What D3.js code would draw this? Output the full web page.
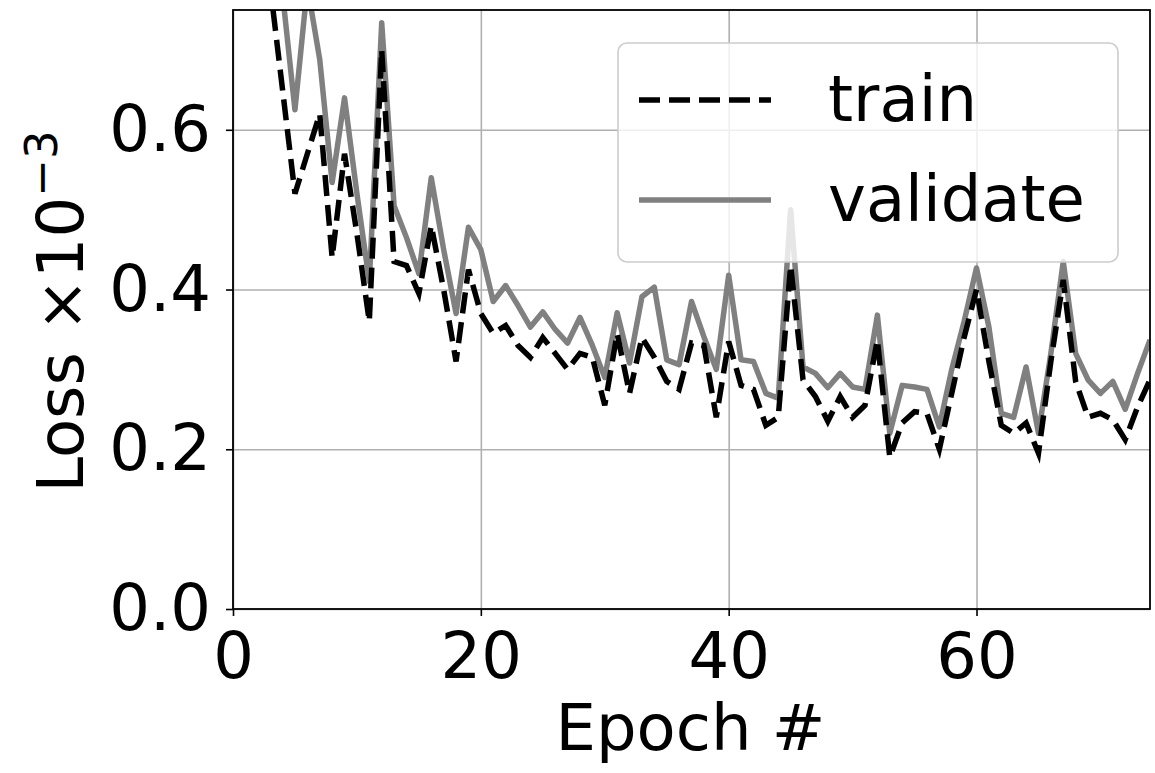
<!DOCTYPE html>
<html>
<head>
<meta charset="utf-8">
<script src="https://cdn.jsdelivr.net/npm/d3@7"></script>
<style>
  body { margin: 0; background: #fff; }
  svg text { font-family: "DejaVu Sans", sans-serif; fill: #000; }
</style>
</head>
<body>
<div id="chart"></div>
<script>
// Epoch numbers and the two loss curves (values in units of 1e-3)
const epochs = [0, 1, 2, 3, 4, 5, 6, 7, 8, 9, 10, 11, 12, 13, 14, 15, 16, 17, 18, 19,
  20, 21, 22, 23, 24, 25, 26, 27, 28, 29, 30, 31, 32, 33, 34, 35, 36, 37, 38, 39,
  40, 41, 42, 43, 44, 45, 46, 47, 48, 49, 50, 51, 52, 53, 54, 55, 56, 57, 58, 59,
  60, 61, 62, 63, 64, 65, 66, 67, 68, 69, 70, 71, 72, 73, 74];

const trainLoss = [1.80, 1.20, 0.92, 0.78, 0.65, 0.52, 0.57, 0.62, 0.44, 0.57,
  0.47, 0.36, 0.70, 0.435, 0.43, 0.395, 0.48, 0.40, 0.31, 0.425,
  0.37, 0.345, 0.355, 0.33, 0.315, 0.34, 0.32, 0.30, 0.32, 0.315,
  0.255, 0.345, 0.27, 0.34, 0.315, 0.285, 0.275, 0.333, 0.33, 0.24,
  0.335, 0.28, 0.275, 0.23, 0.24, 0.43, 0.287, 0.266, 0.235, 0.266,
  0.24, 0.255, 0.337, 0.19, 0.233, 0.247, 0.245, 0.20, 0.27, 0.34,
  0.40, 0.31, 0.23, 0.22, 0.233, 0.195, 0.31, 0.412, 0.285, 0.24,
  0.245, 0.237, 0.212, 0.253, 0.287];

const validateLoss = [1.70, 1.15, 0.95, 0.90, 0.77, 0.625, 0.78, 0.688, 0.534, 0.64,
  0.52, 0.41, 0.734, 0.505, 0.465, 0.42, 0.54, 0.45, 0.37, 0.478,
  0.45, 0.385, 0.405, 0.38, 0.353, 0.372, 0.35, 0.333, 0.365, 0.33,
  0.29, 0.371, 0.308, 0.391, 0.403, 0.312, 0.306, 0.385, 0.341, 0.30,
  0.418, 0.312, 0.31, 0.27, 0.264, 0.50, 0.303, 0.295, 0.277, 0.295,
  0.278, 0.275, 0.368, 0.22, 0.28, 0.278, 0.275, 0.228, 0.30, 0.36,
  0.427, 0.353, 0.245, 0.24, 0.303, 0.22, 0.32, 0.435, 0.32, 0.287,
  0.27, 0.285, 0.25, 0.295, 0.337];

const xTicks = [0, 20, 40, 60];
const yTicks = [0.0, 0.2, 0.4, 0.6];
const seriesNames = ["train", "validate"];

const W = 1155, H = 773;
const margin = {top: 10, right: 5, bottom: 164, left: 233};
const width = W - margin.left - margin.right;
const height = H - margin.top - margin.bottom;

const svg = d3.select("#chart").append("svg")
    .attr("width", W)
    .attr("height", H);

const g = svg.append("g")
    .attr("transform", `translate(${margin.left},${margin.top})`);

const x = d3.scaleLinear().domain([0, 74]).range([0, width]);
const y = d3.scaleLinear().domain([0, 0.75]).range([height, 0]);

// grid
g.append("g")
    .attr("class", "grid")
    .attr("transform", `translate(0,${height})`)
    .call(d3.axisBottom(x).tickValues(xTicks).tickSize(-height).tickFormat(""))
    .call(s => s.select(".domain").remove())
    .selectAll("line").attr("stroke", "#b0b0b0").attr("stroke-width", 1.6);

g.append("g")
    .attr("class", "grid")
    .call(d3.axisLeft(y).tickValues(yTicks).tickSize(-width).tickFormat(""))
    .call(s => s.select(".domain").remove())
    .selectAll("line").attr("stroke", "#b0b0b0").attr("stroke-width", 1.6);

// clip for the curves
svg.append("defs").append("clipPath").attr("id", "plot-clip")
    .append("rect").attr("width", width).attr("height", height);

const trainData = epochs.map((e, i) => ({epoch: e, loss: trainLoss[i]}));
const validateData = epochs.map((e, i) => ({epoch: e, loss: validateLoss[i]}));

const line = d3.line()
    .x(d => x(d.epoch))
    .y(d => y(d.loss));

const curves = g.append("g").attr("clip-path", "url(#plot-clip)");

curves.append("path")
    .datum(validateData)
    .attr("fill", "none")
    .attr("stroke", "#808080")
    .attr("stroke-width", 5.5)
    .attr("stroke-linejoin", "round")
    .attr("d", line);

curves.append("path")
    .datum(trainData)
    .attr("fill", "none")
    .attr("stroke", "#000")
    .attr("stroke-width", 5.5)
    .attr("stroke-dasharray", "21,9")
    .attr("d", line);

// axes
const xAxis = g.append("g")
    .attr("transform", `translate(0,${height})`)
    .call(d3.axisBottom(x).tickValues(xTicks).tickSize(7).tickPadding(17).tickFormat(d3.format("d")));
xAxis.selectAll("text").style("font-size", "64px");

const yAxis = g.append("g")
    .call(d3.axisLeft(y).tickValues(yTicks).tickSize(7).tickPadding(15).tickFormat(d3.format(".1f")));
yAxis.selectAll("text").style("font-size", "64px");

[xAxis, yAxis].forEach(a => {
    a.select(".domain").remove();
    a.selectAll("line").attr("stroke", "#000").attr("stroke-width", 1.6);
});

// frame
g.append("rect")
    .attr("width", width)
    .attr("height", height)
    .attr("fill", "none")
    .attr("stroke", "#000")
    .attr("stroke-width", 1.8);

// axis labels
g.append("text")
    .attr("x", width / 2 - 1)
    .attr("y", height + 141)
    .attr("text-anchor", "middle")
    .style("font-size", "64px")
    .text("Epoch #");

const yLab = g.append("text")
    .attr("transform", `translate(${83 - margin.left},${height / 2 + 2}) rotate(-90)`)
    .attr("text-anchor", "middle")
    .style("font-size", "64px");
yLab.append("tspan").text("Loss ×10");
yLab.append("tspan")
    .attr("dy", -26)
    .style("font-size", "45px")
    .text("−3");

// legend
const legend = g.append("g")
    .attr("transform", `translate(${618 - margin.left},${43 - margin.top})`);

legend.append("rect")
    .attr("width", 500)
    .attr("height", 219)
    .attr("rx", 9)
    .attr("fill", "#fff")
    .attr("fill-opacity", 0.8)
    .attr("stroke", "#cccccc")
    .attr("stroke-width", 1.6);

const legendItems = [
    {name: seriesNames[0], color: "#000", dash: "21,9"},
    {name: seriesNames[1], color: "#808080", dash: null}
];

legendItems.forEach((d, i) => {
    const row = legend.append("g").attr("transform", `translate(0,${57 + i * 100})`);
    row.append("line")
        .attr("x1", 21).attr("x2", 153)
        .attr("stroke", d.color)
        .attr("stroke-width", 5.5)
        .attr("stroke-dasharray", d.dash);
    row.append("text")
        .attr("x", 210)
        .attr("y", 21)
        .style("font-size", "64px")
        .text(d.name);
});
</script>
</body>
</html>
